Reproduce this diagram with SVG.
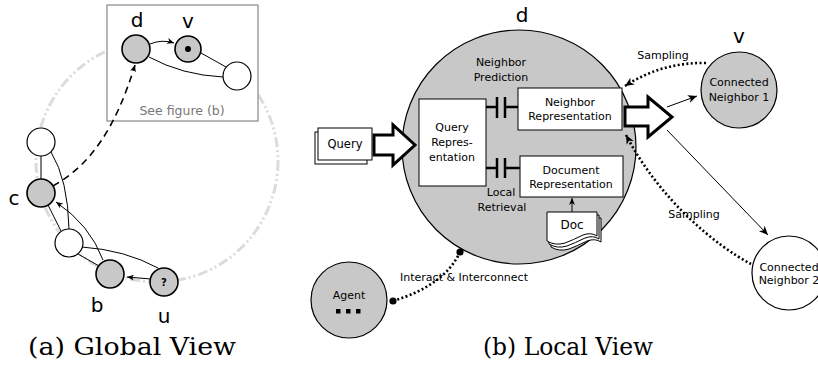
<svg xmlns="http://www.w3.org/2000/svg" width="818" height="368" viewBox="0 0 818 368">
<style>
.t{font-family:"DejaVu Sans",Verdana,sans-serif;font-size:11px;fill:#000;text-anchor:middle}
.lab{font-family:"DejaVu Sans",sans-serif;font-size:20px;fill:#000;text-anchor:middle}
.title{font-family:"DejaVu Serif",serif;font-size:24px;fill:#000;text-anchor:middle}
.g{fill:#c8c8c8;stroke:#000;stroke-width:1.6}
.w{fill:#fff;stroke:#000;stroke-width:1.2}
.e{fill:none;stroke:#000;stroke-width:1}
.box{fill:#fff;stroke:#000;stroke-width:1}
.dot{fill:none;stroke:#000;stroke-width:2.6;stroke-dasharray:2 2.4}
.cap{stroke:#000;stroke-width:2.5;fill:none}
.hol{fill:#fff;stroke:#000;stroke-width:3;stroke-linejoin:miter}
</style>
<defs>
<marker id="ah" markerUnits="userSpaceOnUse" markerWidth="12" markerHeight="10" refX="9" refY="4" orient="auto"><path d="M0,0 L9,4 L0,8 L2.5,4z" fill="#000"/></marker>
<marker id="ahs" markerUnits="userSpaceOnUse" markerWidth="10" markerHeight="8" refX="7" refY="3" orient="auto"><path d="M0,0 L7,3 L0,6 L2,3z" fill="#000"/></marker>
<path id="docpage" d="M0,0 H50 V24 Q44,20 36,23 Q26,28 18,31 Q8,34 0,29 Z"/>
</defs>

<!-- (a) Global view -->
<g id="ring">
<circle cx="157" cy="161" r="121" fill="none" stroke="#dcdcdc" stroke-width="3" stroke-dasharray="10 3 2 3 2 3"/>
</g>
<g id="see-box">
<rect x="107" y="5" width="151" height="116" fill="#fff" stroke="#888" stroke-width="1.2"/>
<text x="182" y="115" style="font-family:'DejaVu Sans',sans-serif;font-size:12.5px;fill:#777;text-anchor:middle">See figure (b)</text>
</g>

<g id="connectors-a">
<path class="e" d="M150,44 Q162,39 174,43" stroke-width="1.4" marker-end="url(#ahs)"/>
<path class="e" d="M201,53 L226,67"/>
<path class="e" d="M149,57 Q182,75 223,77"/>
<path d="M53,186 C90,165 115,130 135,65" fill="none" stroke="#000" stroke-width="1.6" stroke-dasharray="7 5" marker-end="url(#ahs)"/>
<path class="e" d="M41,155 L41,179"/>
<path class="e" d="M51,152 Q68,180 69,229"/>
<path class="e" d="M48,205 L61,231"/>
<path class="e" d="M78,254 L99,266"/>
<path class="e" d="M82,247 Q125,250 158,268"/>
<path class="e" d="M103,260 Q90,225 56,202" stroke-width="1.6" marker-end="url(#ahs)"/>
<path class="e" d="M151,279 L127,277" stroke-width="1.8" marker-end="url(#ahs)"/>
</g>

<g id="node-a-top"><circle class="w" cx="41" cy="142" r="14"/></g>
<g id="node-c"><circle class="g" cx="41" cy="193" r="14"/><text class="lab" x="14" y="205">c</text></g>
<g id="node-a-mid"><circle class="w" cx="69" cy="243" r="14"/></g>
<g id="node-b"><circle class="g" cx="110" cy="274" r="14"/><text class="lab" x="97" y="312">b</text></g>
<g id="node-u"><circle class="g" cx="164" cy="282" r="14"/><text x="164" y="286" style="font-family:'DejaVu Sans',sans-serif;font-size:10px;font-weight:bold;text-anchor:middle">?</text><text class="lab" x="164" y="323">u</text></g>
<g id="node-d-a"><circle class="g" cx="136" cy="49" r="14"/><text class="lab" x="137" y="27">d</text></g>
<g id="node-v-a"><circle class="g" cx="188" cy="49" r="13" stroke-width="2.4"/><circle cx="188" cy="49" r="3" fill="#000"/><text class="lab" x="188" y="28">v</text></g>
<g id="node-a-right"><circle class="w" cx="237" cy="76" r="14"/></g>

<text class="title" x="132" y="355" textLength="208" lengthAdjust="spacingAndGlyphs">(a) Global View</text>

<!-- (b) Local view -->
<g id="node-d-b">
<circle cx="519" cy="147" r="117" fill="#c8c8c8" stroke="#000" stroke-width="1.2"/>
<text class="lab" x="522" y="22">d</text>
<text class="t" x="501" y="66">Neighbor</text>
<text class="t" x="501" y="81">Prediction</text>
<text class="t" x="501" y="196">Local</text>
<text class="t" x="502" y="211">Retrieval</text>
</g>

<g id="query-rep">
<rect class="box" x="419" y="99" width="67" height="87"/>
<text class="t" x="452" y="131">Query</text>
<text class="t" x="452" y="146">Repres-</text>
<text class="t" x="452" y="161">entation</text>
</g>
<g id="neighbor-rep">
<rect class="box" x="518" y="88" width="104" height="42"/>
<text class="t" x="570" y="106">Neighbor</text>
<text class="t" x="570" y="120">Representation</text>
</g>
<g id="document-rep">
<rect class="box" x="520" y="156" width="103" height="41"/>
<text class="t" x="571" y="174">Document</text>
<text class="t" x="571" y="188">Representation</text>
</g>
<g id="doc">
<use href="#docpage" x="551" y="218" fill="#fff" stroke="#000" stroke-width="1"/>
<use href="#docpage" x="549" y="215" fill="#fff" stroke="#000" stroke-width="1"/>
<use href="#docpage" x="547" y="212" fill="#fff" stroke="#000" stroke-width="1"/>
<text class="t" x="572" y="229" style="font-size:12px">Doc</text>
</g>
<g id="query">
<rect x="315" y="132" width="52" height="32" fill="#fff" stroke="#000" stroke-width="1"/>
<rect x="318" y="128" width="54" height="32" fill="#fff" stroke="#000" stroke-width="1"/>
<text class="t" x="345" y="148" style="font-size:11.5px">Query</text>
</g>
<g id="neighbor-1">
<circle cx="739" cy="90" r="38" fill="#c8c8c8" stroke="#000" stroke-width="1.2"/>
<text class="lab" x="739" y="43">v</text>
<text class="t" x="739" y="86">Connected</text>
<text class="t" x="739" y="101">Neighbor 1</text>
</g>
<g id="neighbor-2">
<circle cx="789" cy="273" r="37" fill="#fff" stroke="#000" stroke-width="1.2"/>
<text class="t" x="789" y="271">Connected</text>
<text class="t" x="789" y="284">Neighbor 2</text>
</g>
<g id="agent">
<circle cx="349" cy="300" r="38" fill="#c8c8c8" stroke="#000" stroke-width="1.2"/>
<text class="t" x="349" y="299">Agent</text>
<rect x="336" y="309" width="4.5" height="4.5"/>
<rect x="346" y="309" width="4.5" height="4.5"/>
<rect x="356" y="309" width="4.5" height="4.5"/>
</g>

<g id="connectors-b">
<path class="cap" d="M486,107 H497 M497,97 V118 M505,97 V118 M505,107 H518"/>
<path class="cap" d="M486,168 H497 M497,158 V178 M505,158 V178 M505,168 H520"/>
<polygon class="hol" points="374,135 393,135 393,125 415,145 393,165 393,155 374,155"/>
<polygon class="hol" points="625,107 648,107 648,97 672,117 648,137 648,126 625,126"/>
<path class="e" d="M572,212 L572,198" stroke-width="1.3" marker-end="url(#ahs)"/>
<path class="e" d="M667,107 L697,96" stroke-width="2.2" marker-end="url(#ah)"/>
<path class="e" d="M667,130 L768,235" stroke-width="1" marker-end="url(#ah)"/>
<path class="dot" d="M706,63 Q662,62 625,86" marker-end="url(#ah)"/>
<text class="t" x="663" y="59">Sampling</text>
<path class="dot" d="M751,264 C715,245 660,200 626,135" marker-end="url(#ah)"/>
<text class="t" x="694" y="218">Sampling</text>
<path class="dot" d="M393,301 Q445,285 460,252"/>
<circle cx="393" cy="301" r="3.6"/>
<circle cx="460" cy="252" r="3.6"/>
<text class="t" x="464" y="281">Interact &amp; Interconnect</text>
</g>

<text class="title" x="568" y="355" textLength="170" lengthAdjust="spacingAndGlyphs">(b) Local View</text>
</svg>
